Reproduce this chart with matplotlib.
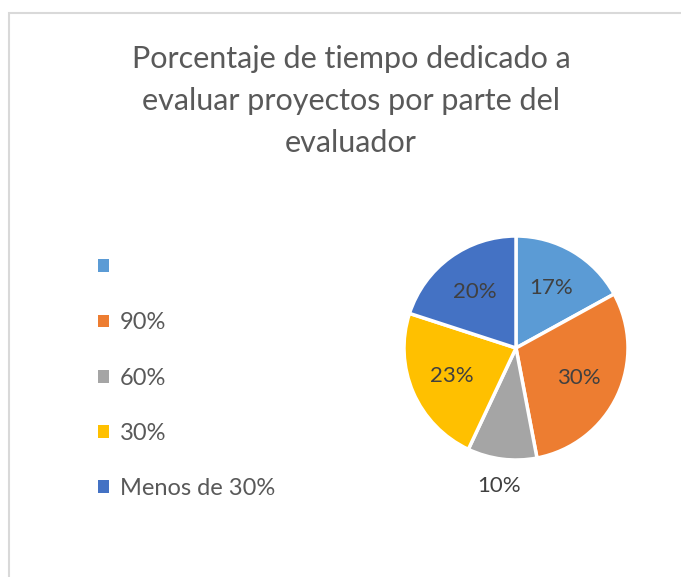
import matplotlib.pyplot as plt
from matplotlib.patches import Rectangle

# porcentaje de tiempo dedicado a evaluar proyectos
categorias = ['', '90%', '60%', '30%', 'Menos de 30%']
porcentajes = [17, 30, 10, 23, 20]
colores = ['#5B9BD5', '#ED7D31', '#A5A5A5', '#FFC000', '#4472C4']

plt.rcParams['font.family'] = ['Lato', 'DejaVu Sans']

W, H = 681, 577
fig = plt.figure(figsize=(W / 100, H / 100), dpi=100)

# marco gris del grafico
fig.patches.append(Rectangle((9 / W, -0.1), 1.2, (H - 13) / H + 0.1,
                             transform=fig.transFigure, fill=False,
                             edgecolor='#D9D9D9', linewidth=1.5))

fig.text(351 / W, 1 - 101 / H,
         'Porcentaje de tiempo dedicado a\nevaluar proyectos por parte del\nevaluador',
         ha='center', va='center', fontsize=22, color='#595959', linespacing=1.6)

ax = fig.add_axes([404 / W, (H - 460) / H, 224 / W, 224 / H])
wedges, textos, pcts = ax.pie(
    porcentajes, colors=colores, startangle=90, counterclock=False,
    autopct='%d%%', pctdistance=0.62,
    wedgeprops=dict(edgecolor='white', linewidth=2.5),
    textprops=dict(fontsize=16, color='#404040'))
# la etiqueta del sector pequeño va por fuera
x, y = pcts[2].get_position()
pcts[2].set_position((x * 2.0, y * 2.0))
ax.set_xlim(-1, 1)
ax.set_ylim(-1, 1)
ax.set_aspect('equal')

handles = [Rectangle((0, 0), 1, 1, facecolor=c) for c in colores]
fig.legend(handles, categorias, loc='upper left',
           bbox_to_anchor=(77 / W, 1 - 236 / H), frameon=False,
           fontsize=17, labelcolor='#595959', handlelength=0.45,
           handleheight=0.45, handletextpad=0.45, labelspacing=1.45)

fig.savefig('out.png', dpi=100, facecolor='white')
